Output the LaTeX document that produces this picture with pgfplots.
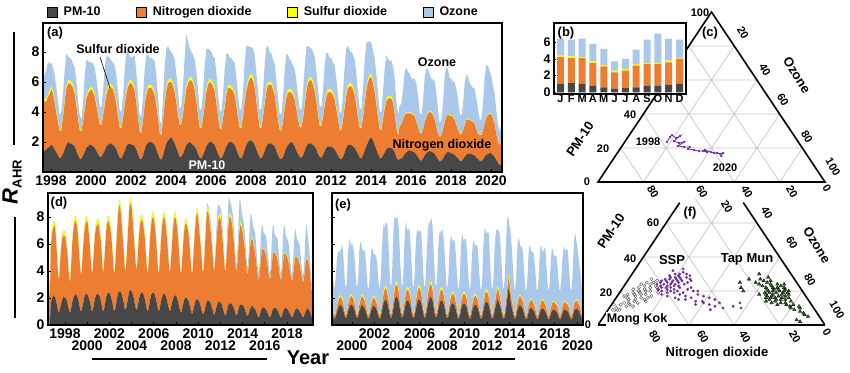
\documentclass[border=0pt]{standalone}
\usepackage{fontspec}
\setmainfont{Liberation Sans}
\usepackage{pgfplots}
\usepackage{pgfplotstable}
\pgfplotsset{compat=1.18}
\definecolor{pmc}{HTML}{474747}
\definecolor{noc}{HTML}{ED7D31}
\definecolor{soc}{HTML}{FFFF00}
\definecolor{ozc}{HTML}{A9C8EA}
\definecolor{ssp}{HTML}{7030A0}
\definecolor{tap}{HTML}{2F6B1F}
\newcommand{\fs}[1]{\fontsize{#1}{#1}\selectfont\bfseries}
\pgfplotsset{
 ts/.style={scale only axis, anchor=south west, stack plots=y, area style, enlargelimits=false,
  axis on top, axis line style={line width=1.2pt}, tick pos=left, tick align=inside,
  major tick length=3pt, tick style={black,line width=0.8pt}, ticklabel style={font=\fs{14}},
  /pgf/number format/assume math mode=true, /pgf/number format/1000 sep={}},
 tern/.style={scale only axis, anchor=south west, width=227pt, height=170pt,
  xmin=0,xmax=100,ymin=0,ymax=100, axis lines=none, clip=false}
}
% Panel (a): monthly contributions (PM-10, NO2, SO2, O3), from 1997.6
\pgfplotstableread{
pm no so oz
1.3 3.4 0.15 1.3
1.4 3.3 0.16 1.6
1.5 3.2 0.17 1.9
1.6 3.4 0.18 2.2
1.7 3.5 0.19 1.8
1.8 3.7 0.21 1.6
1.7 3.5 0.20 1.5
1.5 3.1 0.18 1.7
1.3 2.6 0.15 1.6
1.1 2.2 0.12 1.3
0.9 1.8 0.09 1.0
1.0 1.8 0.08 1.1
1.2 2.4 0.11 1.5
1.5 3.1 0.15 2.0
1.8 3.7 0.19 2.2
2.0 3.9 0.21 1.6
1.9 4.0 0.22 1.5
1.9 3.9 0.22 1.5
1.8 3.8 0.21 1.4
1.7 3.5 0.20 1.6
1.4 3.0 0.17 1.5
1.1 2.4 0.13 1.2
0.9 1.9 0.09 0.9
0.85 1.8 0.08 0.8
1.1 2.2 0.11 1.2
1.3 2.8 0.14 2.1
1.6 3.3 0.18 2.4
1.7 3.5 0.20 2.0
1.8 3.6 0.20 1.7
1.8 3.7 0.21 1.6
1.7 3.6 0.20 1.7
1.6 3.4 0.19 1.8
1.4 3.0 0.16 1.7
1.2 2.6 0.13 1.4
1.0 2.2 0.10 1.1
1.0 2.1 0.09 1.1
1.2 2.5 0.12 1.5
1.4 3.0 0.16 2.3
1.7 3.4 0.19 2.4
1.8 3.7 0.21 2.0
1.9 3.8 0.22 1.7
1.9 3.7 0.22 1.6
1.8 3.7 0.21 1.6
1.7 3.4 0.19 1.8
1.5 3.0 0.16 1.8
1.2 2.5 0.13 1.5
0.95 2.0 0.10 1.1
0.9 2.0 0.09 1.0
1.1 2.4 0.12 1.4
1.4 3.0 0.16 2.2
1.7 3.5 0.19 2.6
1.85 3.8 0.21 2.2
1.9 4.0 0.22 1.6
1.8 4.1 0.22 1.5
1.8 3.9 0.21 1.8
1.7 3.7 0.20 2.2
1.5 3.1 0.16 1.9
1.2 2.4 0.12 1.4
0.9 1.8 0.09 1.0
0.85 1.7 0.08 1.1
1.1 2.3 0.11 1.5
1.5 2.9 0.15 2.3
1.8 3.3 0.18 2.5
1.95 3.6 0.20 2.1
2.0 3.6 0.21 1.8
2.0 3.6 0.21 1.8
1.9 3.5 0.20 1.9
1.8 3.3 0.19 2.1
1.5 2.9 0.16 1.9
1.2 2.3 0.12 1.4
0.9 1.7 0.08 0.8
0.8 1.6 0.07 0.7
1.1 2.3 0.11 1.4
1.5 3.0 0.15 2.4
1.9 3.5 0.19 2.6
2.1 3.8 0.21 2.3
2.2 3.8 0.22 1.9
2.3 3.7 0.22 1.8
2.1 3.6 0.21 1.9
1.9 3.4 0.20 2.0
1.6 3.0 0.17 1.8
1.3 2.5 0.13 1.5
1.0 2.1 0.10 1.0
1.0 2.2 0.10 1.1
1.2 2.6 0.12 1.7
1.5 3.2 0.16 2.8
1.8 3.7 0.19 3.5
1.9 4.0 0.21 2.6
2.0 4.1 0.22 1.9
1.9 4.2 0.22 1.7
1.8 4.1 0.21 1.7
1.7 3.7 0.20 1.9
1.5 3.2 0.17 1.8
1.2 2.6 0.13 1.6
0.95 2.0 0.10 1.1
0.9 2.0 0.09 1.2
1.1 2.4 0.12 1.6
1.4 3.0 0.16 2.5
1.7 3.6 0.19 2.7
1.9 3.9 0.21 2.2
2.0 4.0 0.22 1.9
2.0 3.9 0.22 1.9
1.9 3.8 0.21 1.8
1.8 3.6 0.20 2.0
1.5 3.1 0.17 1.9
1.2 2.5 0.13 1.5
0.95 2.0 0.10 1.1
0.9 1.9 0.09 1.1
1.1 2.4 0.12 1.5
1.4 2.9 0.15 2.4
1.7 3.4 0.18 2.6
1.9 3.7 0.20 2.1
2.0 3.6 0.21 1.8
2.0 3.5 0.21 1.9
1.9 3.5 0.20 1.8
1.8 3.3 0.19 2.0
1.5 2.9 0.16 1.8
1.2 2.4 0.13 1.5
0.95 2.0 0.10 1.1
0.9 2.0 0.09 1.2
1.1 2.5 0.12 1.6
1.5 3.1 0.16 2.5
1.8 3.6 0.19 2.8
2.0 3.9 0.21 2.3
2.1 4.1 0.22 1.9
2.1 4.2 0.23 1.8
2.0 4.1 0.22 1.9
1.8 3.8 0.20 2.0
1.5 3.2 0.17 1.8
1.2 2.6 0.13 1.5
0.95 2.0 0.10 1.1
0.9 2.0 0.09 1.2
1.1 2.5 0.12 1.6
1.4 3.1 0.16 2.5
1.7 3.6 0.19 2.8
1.9 3.9 0.21 2.4
1.9 3.9 0.21 2.0
1.9 3.9 0.21 1.9
1.8 3.7 0.20 1.8
1.7 3.4 0.19 1.9
1.4 2.9 0.16 1.7
1.1 2.3 0.12 1.4
0.9 1.9 0.09 1.0
0.85 1.9 0.08 1.0
1.0 2.3 0.11 1.5
1.3 2.9 0.15 2.4
1.6 3.3 0.18 2.8
1.8 3.5 0.20 2.3
1.9 3.4 0.20 2.0
2.0 3.3 0.20 1.9
1.9 3.2 0.19 1.8
1.7 3.1 0.18 1.9
1.4 2.8 0.15 1.8
1.2 2.3 0.12 1.5
1.0 2.0 0.10 1.1
0.95 2.0 0.09 1.1
1.1 2.4 0.12 1.6
1.4 3.0 0.16 2.5
1.7 3.6 0.19 2.8
1.9 4.0 0.21 2.3
1.9 4.2 0.22 2.0
1.9 4.2 0.22 1.9
1.8 4.0 0.21 2.0
1.7 3.7 0.20 2.1
1.5 3.2 0.17 1.9
1.2 2.6 0.13 1.6
1.0 2.1 0.10 1.2
0.95 2.1 0.09 1.2
1.1 2.5 0.12 1.7
1.4 3.0 0.16 2.6
1.6 3.4 0.18 2.8
1.7 3.6 0.20 2.4
1.7 3.6 0.20 2.1
1.7 3.6 0.20 2.1
1.6 3.5 0.19 2.0
1.5 3.3 0.18 2.1
1.3 2.9 0.15 1.9
1.1 2.4 0.12 1.5
0.9 1.9 0.09 1.1
0.85 1.9 0.08 1.1
1.0 2.4 0.11 1.7
1.3 3.0 0.15 2.6
1.6 3.5 0.18 3.0
1.8 3.8 0.20 2.6
1.8 3.9 0.21 2.2
1.8 3.9 0.21 2.1
1.7 3.8 0.20 2.1
1.6 3.5 0.19 2.2
1.4 3.0 0.16 2.0
1.2 2.4 0.12 1.6
0.95 2.0 0.09 1.2
0.9 2.0 0.08 1.2
1.1 2.5 0.11 1.8
1.4 3.1 0.15 2.8
1.7 3.7 0.18 3.0
2.0 4.0 0.20 2.5
2.2 4.1 0.21 2.2
2.3 4.0 0.21 2.1
2.1 3.8 0.20 2.0
1.8 3.5 0.18 2.1
1.5 3.0 0.15 1.9
1.2 2.4 0.12 1.6
0.95 1.9 0.09 1.1
0.9 1.9 0.08 1.1
1.1 2.4 0.11 1.7
1.3 2.9 0.14 2.6
1.5 3.2 0.16 2.9
1.6 3.3 0.17 2.5
1.6 3.3 0.17 2.3
1.6 3.3 0.16 2.4
1.5 3.1 0.15 2.3
1.3 2.6 0.13 2.2
1.0 1.9 0.10 1.7
0.8 1.6 0.07 1.4
0.85 2.2 0.06 1.3
0.9 2.3 0.06 1.3
1.0 2.5 0.06 1.9
1.2 2.6 0.06 2.8
1.3 2.6 0.06 3.0
1.4 2.5 0.06 2.7
1.4 2.5 0.06 2.6
1.4 2.5 0.06 2.3
1.35 2.45 0.06 2.3
1.3 2.4 0.06 2.5
1.15 2.2 0.05 2.5
1.0 2.0 0.05 2.1
0.8 1.8 0.04 1.3
0.75 1.8 0.04 1.2
0.9 1.9 0.04 1.8
1.1 2.2 0.05 3.0
1.25 2.4 0.05 3.2
1.35 2.55 0.06 2.9
1.4 2.6 0.06 2.5
1.35 2.6 0.06 2.2
1.3 2.5 0.06 2.3
1.2 2.3 0.05 2.5
1.0 2.0 0.05 2.2
0.85 1.7 0.04 1.6
0.7 1.6 0.04 0.9
0.75 1.7 0.04 1.0
0.9 1.9 0.04 1.8
1.1 2.2 0.05 3.0
1.25 2.45 0.05 3.3
1.35 2.5 0.06 2.9
1.3 2.4 0.06 2.5
1.25 2.5 0.06 2.4
1.2 2.45 0.06 2.3
1.15 2.3 0.05 2.5
1.0 2.1 0.05 2.4
0.9 1.9 0.05 2.0
0.75 1.8 0.04 1.3
0.7 1.8 0.04 1.2
0.85 1.9 0.04 1.7
1.0 2.1 0.05 2.8
1.15 2.3 0.05 3.0
1.2 2.3 0.05 2.8
1.2 2.25 0.05 2.5
1.2 2.2 0.05 2.3
1.15 2.2 0.05 2.2
1.1 2.1 0.05 2.3
0.95 1.9 0.05 2.0
0.85 1.7 0.04 1.6
0.75 1.7 0.04 1.0
0.7 1.75 0.04 1.0
0.85 1.9 0.04 1.8
1.0 2.2 0.05 3.1
1.15 2.45 0.05 3.5
1.2 2.6 0.05 3.2
1.25 2.6 0.05 2.8
1.25 2.6 0.05 2.5
1.1 2.4 0.05 2.2
1.0 2.2 0.05 2.0
0.8 1.7 0.04 1.5
0.6 1.4 0.04 1.1
0.45 1.3 0.03 0.9
0.5 1.6 0.03 1.2
}\dA
% Panel (d): roadside station, from 1996.47
\pgfplotstableread{
pm no so oz
0 4.0 0.30 0.05
0 3.8 0.25 0.05
0 1.5 0.10 0
1.6 4.2 0.25 0.05
1.9 4.6 0.30 0.05
2.1 5.0 0.32 0.05
2.2 5.0 0.33 0.05
2.1 5.3 0.35 0.05
2.0 5.0 0.32 0.05
1.7 4.2 0.25 0.05
1.4 3.4 0.18 0.05
1.0 2.6 0.10 0.03
0.9 2.5 0.10 0.03
1.2 3.3 0.15 0.05
1.5 4.0 0.20 0.1
1.8 4.4 0.27 0.1
2.0 4.7 0.30 0.1
2.1 4.4 0.30 0.05
2.0 4.6 0.32 0.05
2.0 4.5 0.30 0.05
1.9 3.9 0.28 0.05
1.6 3.8 0.24 0.05
1.3 3.0 0.16 0.05
1.0 2.4 0.10 0.03
0.9 2.3 0.10 0.03
1.2 3.1 0.15 0.05
1.6 4.2 0.22 0.1
1.9 4.8 0.30 0.1
2.1 5.3 0.33 0.1
2.2 5.4 0.35 0.05
2.3 5.4 0.36 0.05
2.2 5.2 0.34 0.05
2.0 5.0 0.30 0.05
1.8 4.2 0.25 0.05
1.4 3.5 0.18 0.05
1.1 2.9 0.12 0.03
1.0 2.7 0.10 0.03
1.3 3.4 0.15 0.05
1.6 4.1 0.22 0.1
2.0 4.7 0.29 0.1
2.2 5.1 0.32 0.1
2.3 5.3 0.35 0.05
2.3 5.4 0.36 0.05
2.2 5.3 0.34 0.05
2.0 4.8 0.30 0.05
1.8 4.3 0.25 0.05
1.5 3.6 0.19 0.05
1.1 3.0 0.12 0.03
1.0 2.8 0.10 0.03
1.3 3.5 0.16 0.05
1.7 4.2 0.23 0.1
2.0 4.8 0.30 0.1
2.2 5.0 0.32 0.1
2.3 5.2 0.34 0.05
2.3 5.0 0.35 0.05
2.2 5.3 0.35 0.05
2.1 4.6 0.30 0.05
1.8 4.5 0.26 0.05
1.5 3.8 0.20 0.05
1.1 3.0 0.12 0.03
1.0 2.9 0.10 0.03
1.3 3.6 0.16 0.05
1.7 4.3 0.23 0.1
2.1 4.9 0.30 0.1
2.3 5.2 0.33 0.1
2.4 5.3 0.35 0.05
2.4 5.2 0.36 0.05
2.3 5.0 0.34 0.05
2.1 4.7 0.30 0.05
1.8 4.3 0.25 0.05
1.5 3.6 0.19 0.05
1.1 2.9 0.12 0.03
1.0 2.8 0.10 0.03
1.3 3.5 0.16 0.05
1.7 4.4 0.23 0.1
2.1 5.2 0.30 0.1
2.4 6.0 0.35 0.1
2.5 6.3 0.38 0.05
2.5 6.4 0.38 0.05
2.4 5.6 0.35 0.05
2.2 5.0 0.30 0.05
1.9 4.4 0.25 0.05
1.6 3.7 0.19 0.05
1.2 3.0 0.12 0.03
1.1 2.9 0.10 0.03
1.4 3.6 0.16 0.05
1.8 4.5 0.23 0.1
2.2 5.4 0.30 0.1
2.5 6.2 0.36 0.1
2.6 6.4 0.38 0.05
2.5 6.5 0.38 0.05
2.4 5.8 0.35 0.05
2.2 5.1 0.30 0.05
1.9 4.5 0.26 0.05
1.5 3.8 0.19 0.05
1.2 3.1 0.12 0.03
1.1 3.0 0.10 0.03
1.4 3.7 0.16 0.05
1.8 4.5 0.23 0.1
2.1 5.0 0.30 0.1
2.3 5.3 0.33 0.1
2.4 5.4 0.35 0.05
2.4 5.3 0.35 0.05
2.3 5.1 0.33 0.05
2.1 4.8 0.30 0.05
1.8 4.3 0.25 0.05
1.5 3.6 0.19 0.05
1.1 2.9 0.12 0.03
1.0 2.8 0.10 0.03
1.3 3.5 0.16 0.05
1.7 4.3 0.23 0.1
2.1 5.0 0.30 0.1
2.3 5.4 0.33 0.1
2.4 5.5 0.35 0.05
2.4 5.6 0.36 0.05
2.3 5.3 0.34 0.05
2.1 4.9 0.30 0.05
1.8 4.3 0.25 0.05
1.5 3.6 0.19 0.05
1.1 2.9 0.12 0.03
1.0 2.8 0.10 0.03
1.3 3.6 0.16 0.05
1.7 4.4 0.23 0.1
2.0 5.1 0.30 0.1
2.2 5.5 0.33 0.1
2.3 5.7 0.35 0.05
2.3 5.6 0.36 0.05
2.2 5.3 0.34 0.05
2.0 4.9 0.30 0.05
1.7 4.4 0.25 0.05
1.4 3.7 0.19 0.05
1.1 3.0 0.12 0.03
1.0 2.9 0.10 0.03
1.3 3.6 0.16 0.05
1.6 4.4 0.23 0.1
1.9 5.1 0.30 0.1
2.1 5.6 0.33 0.1
2.2 5.8 0.35 0.05
2.2 5.7 0.35 0.05
2.1 5.4 0.33 0.05
1.9 5.0 0.30 0.05
1.6 4.4 0.25 0.05
1.3 3.7 0.19 0.05
1.0 3.0 0.12 0.03
0.9 2.9 0.10 0.03
1.2 3.6 0.16 0.05
1.5 4.4 0.23 0.1
1.8 5.0 0.29 0.1
2.0 5.4 0.32 0.1
2.0 5.5 0.33 0.05
2.0 5.4 0.32 0.05
1.9 5.2 0.30 0.05
1.8 4.9 0.28 0.05
1.5 4.4 0.24 0.05
1.2 3.8 0.18 0.05
0.9 3.1 0.12 0.03
0.8 3.0 0.10 0.03
1.1 3.7 0.15 0.05
1.4 4.6 0.22 0.1
1.7 5.4 0.28 0.1
1.9 6.0 0.32 0.1
1.9 6.4 0.34 0.1
1.9 6.2 0.33 0.1
1.8 5.6 0.30 0.1
1.6 5.0 0.27 0.1
1.4 4.5 0.23 0.1
1.1 3.9 0.17 0.05
0.85 3.2 0.11 0.05
0.8 3.1 0.10 0.05
1.0 3.9 0.15 0.1
1.3 5.0 0.22 0.2
1.6 6.0 0.28 0.3
1.8 6.6 0.33 0.3
1.8 6.6 0.34 0.2
1.8 6.2 0.32 0.3
1.7 5.6 0.30 0.4
1.6 5.2 0.27 0.6
1.3 4.7 0.22 0.5
1.1 4.0 0.17 0.4
0.8 3.4 0.11 0.2
0.75 3.3 0.10 0.2
1.0 4.0 0.14 0.4
1.3 4.8 0.20 0.9
1.5 5.5 0.25 1.2
1.7 6.0 0.28 1.0
1.7 6.2 0.30 0.6
1.7 6.3 0.30 0.5
1.6 6.0 0.28 0.6
1.5 5.4 0.25 0.8
1.2 4.8 0.20 0.7
1.0 4.1 0.16 0.5
0.75 3.4 0.10 0.3
0.7 3.3 0.10 0.3
0.9 4.0 0.13 0.6
1.2 5.0 0.19 1.2
1.5 5.8 0.24 1.6
1.6 6.3 0.27 1.3
1.6 6.4 0.28 0.8
1.6 6.2 0.28 0.8
1.5 5.9 0.26 0.9
1.4 5.4 0.24 1.0
1.2 4.8 0.20 0.9
1.0 4.1 0.15 0.6
0.75 3.4 0.10 0.4
0.7 3.3 0.10 0.4
0.9 3.9 0.13 0.8
1.2 4.8 0.18 1.5
1.4 5.6 0.22 2.0
1.5 5.9 0.24 1.6
1.5 5.8 0.24 1.0
1.5 5.5 0.22 0.9
1.4 5.2 0.20 1.0
1.3 4.8 0.18 1.1
1.1 4.3 0.15 1.0
0.9 3.8 0.12 0.7
0.7 3.2 0.08 0.5
0.65 3.1 0.07 0.5
0.85 3.6 0.10 0.9
1.1 4.3 0.13 1.6
1.3 4.8 0.15 2.0
1.4 5.0 0.16 1.6
1.4 4.9 0.15 1.2
1.3 4.6 0.12 1.2
1.25 4.4 0.10 1.3
1.15 4.1 0.08 1.4
0.95 3.7 0.06 1.2
0.8 3.3 0.05 0.8
0.6 2.9 0.04 0.5
0.55 2.8 0.04 0.5
0.75 3.2 0.05 0.9
1.0 3.8 0.06 1.6
1.2 4.2 0.07 1.9
1.3 4.4 0.07 1.6
1.3 4.3 0.07 1.2
1.3 4.2 0.07 1.2
1.2 4.1 0.07 1.3
1.1 3.9 0.06 1.4
0.95 3.6 0.05 1.2
0.8 3.2 0.05 0.9
0.6 2.9 0.04 0.5
0.55 2.8 0.04 0.5
0.7 3.1 0.05 0.9
0.95 3.6 0.06 1.8
1.15 4.0 0.06 2.2
1.25 4.2 0.07 1.8
1.25 4.1 0.07 1.3
1.25 4.0 0.07 1.3
1.2 3.9 0.06 1.3
1.1 3.8 0.06 1.5
0.95 3.5 0.05 1.2
0.8 3.1 0.05 0.9
0.6 2.8 0.04 0.5
0.55 2.8 0.04 0.5
0.7 3.1 0.05 1.0
0.95 3.6 0.06 1.9
1.15 4.0 0.06 2.3
1.25 4.1 0.07 1.8
1.25 4.0 0.07 1.3
1.2 3.9 0.07 1.3
1.15 3.8 0.06 1.3
1.05 3.6 0.06 1.4
0.9 3.3 0.05 1.1
0.75 3.0 0.05 0.8
0.6 2.8 0.04 0.5
0.55 2.7 0.04 0.5
0.7 3.0 0.05 1.0
0.9 3.4 0.06 1.8
1.1 3.8 0.06 2.2
1.2 3.9 0.06 1.8
1.2 3.8 0.06 1.3
1.2 3.7 0.06 1.3
1.1 3.6 0.06 1.3
1.0 3.5 0.05 1.4
0.9 3.2 0.05 1.1
0.75 2.9 0.04 0.8
0.6 2.7 0.04 0.5
0.55 2.6 0.04 0.5
0.7 2.9 0.04 1.0
0.9 3.3 0.05 2.0
1.1 3.7 0.05 2.6
1.2 3.7 0.06 2.3
1.2 3.6 0.06 1.5
1.1 3.4 0.06 1.3
1.0 3.0 0.05 1.0
0.8 2.4 0.05 0.6
0.6 2.0 0.04 0.4
0.5 1.8 0.04 0.3
}\dD
% Panel (e): rural station, from 1998.23
\pgfplotstableread{
pm no so oz
0.9 0.4 0.08 3.0
0.7 0.3 0.06 2.5
0.5 0.25 0.05 2.0
0.45 0.25 0.05 2.1
0.6 0.3 0.06 2.6
0.9 0.4 0.09 3.3
1.1 0.5 0.11 3.6
1.3 0.55 0.13 3.5
1.4 0.6 0.14 3.2
1.5 0.6 0.15 3.3
1.4 0.55 0.14 3.6
1.3 0.5 0.13 4.0
1.1 0.45 0.11 3.5
0.8 0.35 0.08 2.8
0.55 0.25 0.06 2.1
0.5 0.25 0.05 2.0
0.65 0.3 0.07 2.5
1.0 0.45 0.10 3.8
1.2 0.5 0.12 4.2
1.4 0.6 0.14 4.3
1.5 0.6 0.15 3.6
1.5 0.65 0.15 3.7
1.4 0.6 0.14 3.8
1.3 0.55 0.13 3.6
1.1 0.5 0.11 3.3
0.8 0.35 0.08 2.7
0.55 0.25 0.06 2.1
0.5 0.25 0.05 2.0
0.65 0.3 0.07 2.6
1.0 0.45 0.10 3.9
1.2 0.5 0.12 4.3
1.4 0.6 0.14 4.0
1.5 0.65 0.15 3.4
1.4 0.6 0.14 3.3
1.3 0.6 0.14 3.5
1.2 0.55 0.13 3.6
1.0 0.45 0.10 3.2
0.75 0.35 0.08 2.6
0.5 0.25 0.05 2.0
0.45 0.25 0.05 1.9
0.6 0.3 0.07 2.4
0.9 0.4 0.10 3.5
1.1 0.5 0.12 3.9
1.3 0.55 0.13 3.7
1.4 0.6 0.14 3.2
1.4 0.6 0.14 3.1
1.3 0.55 0.13 3.2
1.2 0.5 0.12 3.4
1.0 0.45 0.10 3.0
0.75 0.35 0.08 2.5
0.5 0.25 0.05 2.0
0.45 0.25 0.05 2.0
0.6 0.3 0.07 2.6
1.0 0.45 0.10 4.0
1.3 0.55 0.13 4.8
1.6 0.7 0.16 5.0
1.8 0.8 0.18 4.4
1.9 0.85 0.19 4.6
1.8 0.8 0.18 4.8
1.6 0.7 0.16 5.0
1.3 0.6 0.13 4.2
0.9 0.4 0.09 3.0
0.6 0.3 0.06 2.2
0.5 0.25 0.05 2.1
0.7 0.35 0.07 2.8
1.1 0.5 0.11 4.5
1.5 0.65 0.15 5.4
1.9 0.8 0.19 5.2
2.1 0.9 0.21 4.6
2.1 0.9 0.21 4.8
1.9 0.85 0.19 5.0
1.7 0.75 0.17 4.6
1.3 0.6 0.13 3.8
0.9 0.4 0.09 2.9
0.6 0.3 0.06 2.1
0.55 0.25 0.05 2.0
0.7 0.35 0.07 2.7
1.1 0.5 0.11 4.2
1.4 0.6 0.14 5.0
1.7 0.75 0.17 5.0
1.8 0.8 0.18 4.3
1.8 0.8 0.18 4.2
1.7 0.75 0.17 4.6
1.5 0.65 0.15 4.5
1.2 0.55 0.12 3.7
0.85 0.4 0.08 2.8
0.55 0.25 0.05 2.1
0.5 0.25 0.05 2.0
0.65 0.3 0.07 2.7
1.1 0.5 0.11 4.0
1.4 0.6 0.14 4.6
1.7 0.75 0.17 4.5
1.9 0.8 0.19 4.0
1.9 0.85 0.19 4.0
1.8 0.8 0.18 4.2
1.6 0.7 0.16 4.4
1.3 0.55 0.13 3.6
0.9 0.4 0.09 2.7
0.6 0.3 0.06 2.0
0.5 0.25 0.05 2.0
0.7 0.35 0.07 2.6
1.1 0.5 0.11 3.9
1.5 0.65 0.15 4.6
1.8 0.8 0.18 4.8
2.0 0.9 0.20 4.4
2.1 0.95 0.21 4.5
2.0 0.9 0.20 4.8
1.8 0.8 0.18 4.6
1.4 0.6 0.14 3.8
0.95 0.45 0.09 2.8
0.6 0.3 0.06 2.1
0.55 0.25 0.05 2.0
0.7 0.35 0.07 2.6
1.1 0.5 0.11 3.9
1.4 0.6 0.14 4.5
1.7 0.75 0.17 4.4
1.8 0.8 0.18 4.0
1.8 0.8 0.18 4.2
1.7 0.75 0.17 4.4
1.5 0.65 0.15 4.0
1.2 0.55 0.12 3.4
0.85 0.4 0.08 2.6
0.55 0.25 0.05 2.0
0.5 0.25 0.05 2.0
0.65 0.3 0.07 2.6
1.0 0.45 0.10 3.8
1.3 0.55 0.13 4.3
1.5 0.65 0.15 4.3
1.6 0.7 0.16 3.8
1.6 0.7 0.16 3.8
1.5 0.65 0.15 4.0
1.4 0.6 0.14 3.9
1.1 0.5 0.11 3.3
0.8 0.35 0.08 2.6
0.5 0.25 0.05 2.0
0.45 0.25 0.05 1.9
0.6 0.3 0.06 2.5
1.0 0.45 0.10 3.9
1.3 0.55 0.13 4.5
1.5 0.65 0.15 4.4
1.6 0.7 0.16 3.8
1.6 0.7 0.16 3.9
1.5 0.65 0.15 4.1
1.4 0.6 0.14 4.0
1.1 0.5 0.11 3.3
0.8 0.35 0.08 2.6
0.5 0.25 0.05 2.0
0.45 0.25 0.05 1.9
0.6 0.3 0.06 2.5
0.95 0.45 0.10 3.7
1.2 0.55 0.12 4.2
1.4 0.6 0.14 4.1
1.5 0.65 0.15 3.6
1.5 0.65 0.15 3.6
1.4 0.6 0.14 3.8
1.3 0.55 0.13 3.8
1.05 0.45 0.10 3.2
0.75 0.35 0.07 2.5
0.5 0.25 0.05 1.9
0.45 0.25 0.05 1.9
0.6 0.3 0.06 2.6
1.0 0.45 0.10 4.0
1.3 0.55 0.13 4.8
1.6 0.7 0.16 4.8
1.7 0.75 0.17 4.2
1.7 0.75 0.17 4.2
1.6 0.7 0.16 4.5
1.4 0.6 0.14 4.6
1.1 0.5 0.11 3.6
0.8 0.35 0.08 2.6
0.5 0.25 0.05 2.0
0.45 0.25 0.05 1.9
0.6 0.3 0.06 2.6
1.0 0.45 0.10 4.0
1.3 0.55 0.13 4.6
1.6 0.7 0.16 4.6
1.9 0.8 0.19 4.2
1.8 0.75 0.18 4.3
1.6 0.7 0.16 4.5
1.4 0.6 0.14 4.2
1.1 0.5 0.11 3.5
0.8 0.35 0.08 2.6
0.5 0.25 0.05 2.0
0.45 0.25 0.05 1.9
0.6 0.3 0.06 2.6
1.1 0.5 0.11 4.0
1.6 0.65 0.15 4.8
2.2 0.8 0.20 4.9
2.7 0.8 0.22 4.2
2.4 0.75 0.20 4.0
1.8 0.7 0.17 4.2
1.4 0.6 0.14 4.0
1.1 0.5 0.11 3.4
0.8 0.35 0.08 2.6
0.5 0.25 0.05 1.9
0.45 0.25 0.05 1.9
0.6 0.3 0.06 2.5
1.0 0.45 0.10 3.8
1.2 0.55 0.12 4.4
1.4 0.6 0.13 4.3
1.5 0.65 0.14 3.8
1.4 0.65 0.12 3.6
1.3 0.6 0.11 3.8
1.2 0.55 0.10 3.7
0.95 0.45 0.08 3.1
0.7 0.35 0.06 2.5
0.45 0.25 0.04 1.9
0.4 0.25 0.04 1.9
0.55 0.3 0.05 2.5
0.85 0.4 0.07 3.6
1.1 0.5 0.08 4.2
1.2 0.55 0.09 4.0
1.3 0.6 0.10 3.5
1.2 0.6 0.09 3.5
1.1 0.55 0.09 3.7
1.0 0.5 0.08 3.6
0.85 0.45 0.07 3.0
0.65 0.35 0.05 2.4
0.45 0.25 0.04 1.9
0.4 0.25 0.04 1.9
0.55 0.3 0.05 2.5
0.85 0.4 0.07 3.7
1.05 0.5 0.08 4.2
1.2 0.55 0.09 4.0
1.2 0.6 0.09 3.5
1.2 0.6 0.09 3.6
1.1 0.55 0.09 3.9
1.0 0.5 0.08 4.2
0.85 0.45 0.07 3.4
0.65 0.35 0.05 2.6
0.45 0.25 0.04 2.0
0.4 0.25 0.04 1.9
0.55 0.3 0.05 2.5
0.85 0.4 0.07 3.6
1.0 0.5 0.08 4.0
1.1 0.55 0.09 3.9
1.15 0.55 0.09 3.4
1.1 0.55 0.09 3.3
1.05 0.5 0.08 3.5
1.0 0.5 0.08 3.5
0.85 0.45 0.07 3.0
0.65 0.35 0.05 2.4
0.45 0.25 0.04 1.9
0.4 0.25 0.04 1.9
0.55 0.3 0.05 2.4
0.8 0.4 0.06 3.4
1.0 0.5 0.08 3.9
1.1 0.55 0.09 4.1
1.15 0.55 0.09 3.7
1.1 0.55 0.09 3.8
1.05 0.5 0.08 4.0
1.0 0.5 0.08 3.9
0.85 0.45 0.07 3.2
0.65 0.35 0.05 2.5
0.45 0.25 0.04 1.9
0.4 0.25 0.04 1.9
0.55 0.3 0.05 2.6
0.85 0.4 0.07 4.0
1.05 0.5 0.08 4.8
1.15 0.55 0.09 5.0
1.2 0.6 0.09 4.4
1.2 0.6 0.09 4.0
1.1 0.55 0.08 3.5
1.0 0.5 0.08 3.0
0.85 0.45 0.07 2.8
0.65 0.35 0.05 2.4
0.45 0.25 0.04 2.0
0.4 0.25 0.04 1.9
}\dE
% Panel (c): yearly shares (%) 1998-2020: PM-10 (p), ozone (o)
\pgfplotstableread{
p o
23.5 18.6
26.5 18.5
27.6 18.8
25.9 21.4
27.1 22.6
24.1 21.4
22.9 24.2
23.5 26.2
21.2 24.6
20.6 27.6
20.6 30.2
19.4 29.9
18.8 32.9
18.2 35.4
18.2 37.2
17.6 39.2
18.8 37.7
17.6 41.0
17.1 42.6
17.1 43.9
16.5 45.5
17.1 46.6
15.3 46.6
}\dC
% Panel (f): Mong Kok
\pgfplotstableread{
p o
17 8
19 9
15 6
21 10
13 5
18 12
22 7
16 11
20 13
14 9
24 11
12 4
19 6
23 14
17 15
11 7
25 9
15 13
21 16
18 4
10 3
26 13
13 11
20 8
16 5
22 12
9 5
14 14
24 7
18 10
12 8
27 10
19 17
15 9
21 5
17 3
23 9
11 10
16 14
20 11
13 7
25 12
8 4
18 7
22 15
12 1
9 2
}\dMK
% Panel (f): SSP
\pgfplotstableread{
p o
25 20
27 18
23 22
29 21
26 24
24 17
28 25
22 19
30 19
21 23
26 15
25 27
28 20
24 22
27 23
20 18
31 22
23 16
26 20
29 17
22 25
24 26
27 16
21 20
25 23
30 24
23 19
26 28
28 22
20 22
24 14
27 21
22 17
29 26
25 18
19 21
26 22
23 24
28 18
21 16
24 20
27 27
20 25
25 15
22 21
30 21
18 19
26 17
19 28
17 30
21 29
16 33
18 35
15 31
20 32
14 36
17 38
13 40
16 41
12 43
15 44
11 46
14 39
13 47
10 50
12 37
18 27
16 26
19 24
17 22
22 30
20 34
15 28
9 45
33 21
32 17
11 54
13 56
10 58
}\dSS
% Panel (f): Tap Mun
\pgfplotstableread{
p o
20 65
18 68
22 63
16 70
19 72
21 67
17 66
23 69
15 73
18 75
20 70
24 64
14 71
19 64
22 68
16 76
13 74
21 72
17 71
25 62
18 62
20 74
15 68
23 65
12 77
19 69
16 66
22 71
14 78
21 64
17 74
24 67
13 70
20 67
18 72
15 75
26 63
19 66
11 79
23 61
16 73
21 69
14 67
18 65
20 72
12 73
17 68
22 66
15 71
19 74
13 76
10 80
24 70
16 68
27 58
25 57
28 61
26 60
10 84
8 85
9 82
6 88
5 90
11 83
30 56
24 59
7 87
12 80
22 52
25 50
20 54
27 53
2 88
3 86
}\dTM
\begin{document}
\begin{tikzpicture}[x=1pt,y=1pt]
\path[use as bounding box] (0pt,0pt) rectangle (850pt,372pt);
% ---------- (a)
\begin{axis}[ts, at={(43pt,200pt)}, width=459pt, height=149pt,
  xmin=1997.6, xmax=2020.55, ymin=0, ymax=9.93,
  xtick={1998,2000,...,2020}, ytick={2,4,6,8},
  legend columns=4, legend cell align=left,
  legend style={draw=none, fill=none, inner sep=0pt, at={(axis description cs:0.009,1.074)}, anchor=west,
    font=\fs{12.5}, /tikz/every even column/.append style={column sep=34pt}}]
\addplot[draw=none, fill=pmc, legend image code/.code={\draw[fill=pmc,draw=black,line width=0.7pt] (0pt,-5pt) rectangle (10pt,5pt); \path (14pt,0pt);}]
  table[x expr=1997.6+\coordindex/12, y=pm] {\dA} \closedcycle;
\addlegendentry{PM-10}
\addplot[draw=none, fill=noc, legend image code/.code={\draw[fill=noc,draw=black,line width=0.7pt] (0pt,-5pt) rectangle (10pt,5pt); \path (14pt,0pt);}]
  table[x expr=1997.6+\coordindex/12, y=no] {\dA} \closedcycle;
\addlegendentry{Nitrogen dioxide}
\addplot[draw=none, fill=soc, legend image code/.code={\draw[fill=soc,draw=black,line width=0.7pt] (0pt,-5pt) rectangle (10pt,5pt); \path (14pt,0pt);}]
  table[x expr=1997.6+\coordindex/12, y=so] {\dA} \closedcycle;
\addlegendentry{Sulfur dioxide}
\addplot[draw=none, fill=ozc, legend image code/.code={\draw[fill=ozc,draw=black,line width=0.7pt] (0pt,-5pt) rectangle (10pt,5pt); \path (14pt,0pt);}]
  table[x expr=1997.6+\coordindex/12, y=oz] {\dA} \closedcycle;
\addlegendentry{Ozone}
\end{axis}
% ---------- (d)
\begin{axis}[ts, at={(48pt,47pt)}, width=265pt, height=132pt,
  xmin=1996.47, xmax=2020.34, ymin=0, ymax=9.78,
  xtick={1998,2002,...,2018}, extra x ticks={2000,2004,...,2016},
  extra x tick style={xticklabel style={yshift=-12pt}}, ytick={0,2,4,6,8}]
\addplot[draw=none, fill=pmc] table[x expr=1996.47+\coordindex/12, y=pm] {\dD} \closedcycle;
\addplot[draw=none, fill=noc] table[x expr=1996.47+\coordindex/12, y=no] {\dD} \closedcycle;
\addplot[draw=none, fill=soc] table[x expr=1996.47+\coordindex/12, y=so] {\dD} \closedcycle;
\addplot[draw=none, fill=ozc] table[x expr=1996.47+\coordindex/12, y=oz] {\dD} \closedcycle;
\end{axis}
% ---------- (e)
\begin{axis}[ts, at={(332pt,47pt)}, width=251pt, height=132pt,
  xmin=1998.23, xmax=2020.5, ymin=0, ymax=9.78,
  xtick={2002,2006,...,2018}, extra x ticks={2000,2004,...,2020},
  extra x tick style={xticklabel style={yshift=-12pt}}, ytick={2,4,6,8}, yticklabels={}]
\addplot[draw=none, fill=pmc] table[x expr=1998.23+\coordindex/12, y=pm] {\dE} \closedcycle;
\addplot[draw=none, fill=noc] table[x expr=1998.23+\coordindex/12, y=no] {\dE} \closedcycle;
\addplot[draw=none, fill=soc] table[x expr=1998.23+\coordindex/12, y=so] {\dE} \closedcycle;
\addplot[draw=none, fill=ozc] table[x expr=1998.23+\coordindex/12, y=oz] {\dE} \closedcycle;
\end{axis}
% ---------- (c) ternary
\begin{axis}[tern, at={(598pt,190pt)}]
\draw[black!22, line width=0.7pt] (axis cs:10,20)--(axis cs:90,20) (axis cs:20,40)--(axis cs:80,40)
  (axis cs:30,60)--(axis cs:70,60) (axis cs:40,80)--(axis cs:60,80)
  (axis cs:20,0)--(axis cs:60,80) (axis cs:40,0)--(axis cs:70,60) (axis cs:60,0)--(axis cs:80,40) (axis cs:80,0)--(axis cs:90,20)
  (axis cs:80,0)--(axis cs:40,80) (axis cs:60,0)--(axis cs:30,60) (axis cs:40,0)--(axis cs:20,40) (axis cs:20,0)--(axis cs:10,20);
\draw[black, line width=1.6pt] (axis cs:0,0)--(axis cs:100,0)--(axis cs:50,100)--cycle;
\addplot[ssp, line width=0.8pt, mark=*, mark size=0.7pt] table[x expr=\thisrow{o}+0.5*\thisrow{p}, y=p] {\dC};
\end{axis}
% ---------- (b) monthly bars
\begin{axis}[scale only axis, anchor=south west, at={(554pt,278pt)}, width=132pt, height=71pt,
  ybar stacked, bar width=7pt, xmin=0.4, xmax=12.6, ymin=-0.2, ymax=8.3,
  xtick={1,...,12}, xticklabels={J,F,M,A,M,J,J,A,S,O,N,D}, ytick={0,2,4,6},
  axis background/.style={fill=white}, axis on top, axis line style={line width=1.2pt},
  tick pos=left, tick align=inside, major tick length=2pt, tick style={black,line width=0.8pt},
  xtick style={draw=none}, xticklabel style={inner sep=1pt, font=\fs{11}},
  yticklabel style={font=\fs{12.5}}, /pgf/number format/assume math mode=true]
\addplot[fill=pmc, draw=none] coordinates {(1,1.0)(2,1.1)(3,1.0)(4,0.8)(5,0.6)(6,0.4)(7,0.5)(8,0.6)(9,0.8)(10,0.8)(11,0.9)(12,1.0)};
\addplot[fill=noc, draw=none] coordinates {(1,3.2)(2,3.0)(3,3.1)(4,2.7)(5,2.5)(6,2.0)(7,2.1)(8,2.6)(9,2.6)(10,2.6)(11,2.7)(12,3.0)};
\addplot[fill=soc, draw=none] coordinates {(1,0.2)(2,0.2)(3,0.12)(4,0.2)(5,0.2)(6,0.2)(7,0.2)(8,0.2)(9,0.1)(10,0.12)(11,0.2)(12,0.1)};
\addplot[fill=ozc, draw=none] coordinates {(1,2.0)(2,2.0)(3,2.2)(4,2.1)(5,1.9)(6,1.1)(7,1.2)(8,1.7)(9,2.8)(10,3.5)(11,2.6)(12,2.2)};
\end{axis}
% ---------- (f) ternary
\begin{axis}[tern, at={(598pt,47pt)}]
\begin{scope}
\clip (axis cs:0,0) rectangle (axis cs:100,74);
\draw[black!22, line width=0.7pt] (axis cs:10,20)--(axis cs:90,20) (axis cs:20,40)--(axis cs:80,40)
  (axis cs:30,60)--(axis cs:70,60) (axis cs:40,80)--(axis cs:60,80)
  (axis cs:20,0)--(axis cs:60,80) (axis cs:40,0)--(axis cs:70,60) (axis cs:60,0)--(axis cs:80,40) (axis cs:80,0)--(axis cs:90,20)
  (axis cs:80,0)--(axis cs:40,80) (axis cs:60,0)--(axis cs:30,60) (axis cs:40,0)--(axis cs:20,40) (axis cs:20,0)--(axis cs:10,20);
\draw[black, line width=1.6pt] (axis cs:36,72)--(axis cs:0,0)--(axis cs:100,0)--(axis cs:64,72);
\end{scope}
\addplot[only marks, mark=o, mark size=1.6pt, draw=black!70, mark options={fill=white, line width=0.4pt}]
  table[x expr=\thisrow{o}+0.5*\thisrow{p}, y=p] {\dMK};
\addplot[only marks, mark=*, mark size=1.2pt, color=ssp]
  table[x expr=\thisrow{o}+0.5*\thisrow{p}, y=p] {\dSS};
\addplot[only marks, mark=triangle*, mark size=2pt, mark options={fill=tap, draw=black, line width=0.3pt}]
  table[x expr=\thisrow{o}+0.5*\thisrow{p}, y=p] {\dTM};
\end{axis}
% ---------- annotations
\node[font=\fs{13}] at (55pt,339pt) {(a)};
\node[font=\fs{12.5}] at (118pt,323pt) {Sulfur dioxide};
\draw[black, line width=0.6pt] (100pt,315pt) -- (110pt,284pt);
\node[font=\fs{12.5}] at (437pt,310pt) {Ozone};
\node[font=\fs{12.5}] at (442pt,227pt) {Nitrogen dioxide};
\node[font=\fs{12.5}, white] at (207pt,207pt) {PM-10};
\node[font=\fs{13}] at (566pt,339pt) {(b)};
\node[font=\fs{13}] at (710pt,339pt) {(c)};
\node[font=\fs{13}] at (59pt,169pt) {(d)};
\node[font=\fs{13}] at (343pt,167pt) {(e)};
\node[font=\fs{13}] at (690pt,159pt) {(f)};
% ternary (c) labels
\node[font=\fs{11}] at (587pt,190pt) {0};
\node[font=\fs{11}] at (603pt,223pt) {20};
\node[font=\fs{11}] at (630pt,257pt) {40};
\node[font=\fs{11}] at (700pt,359pt) {100};
\node[font=\fs{11}, rotate=-60] at (743pt,339pt) {20};
\node[font=\fs{11}, rotate=-60] at (765pt,302pt) {40};
\node[font=\fs{11}, rotate=-60] at (783pt,272pt) {60};
\node[font=\fs{11}, rotate=-60] at (807pt,235pt) {80};
\node[font=\fs{11}, rotate=-60] at (833pt,205pt) {100};
\node[font=\fs{11}, rotate=-60] at (653pt,180pt) {80};
\node[font=\fs{11}, rotate=-60] at (702pt,180pt) {60};
\node[font=\fs{11}, rotate=-60] at (747pt,180pt) {40};
\node[font=\fs{11}, rotate=-60] at (792pt,180pt) {20};
\node[font=\fs{11}, rotate=-60] at (827pt,184pt) {0};
\node[font=\fs{13}, rotate=56] at (580pt,233pt) {PM-10};
\node[font=\fs{13}, rotate=-58] at (797pt,297pt) {Ozone};
\node[font=\fs{11}] at (648pt,230pt) {1998};
\node[font=\fs{11}] at (725pt,204pt) {2020};
% ternary (f) labels
\node[font=\fs{11}] at (588pt,47pt) {0};
\node[font=\fs{11}] at (606pt,79pt) {20};
\node[font=\fs{11}] at (630pt,113pt) {40};
\node[font=\fs{11}] at (653pt,149pt) {60};
\node[font=\fs{11}, rotate=-60] at (727pt,165pt) {20};
\node[font=\fs{11}, rotate=-60] at (767pt,159pt) {40};
\node[font=\fs{11}, rotate=-60] at (792pt,129pt) {60};
\node[font=\fs{11}, rotate=-60] at (810pt,92pt) {80};
\node[font=\fs{11}, rotate=-60] at (837pt,62pt) {100};
\node[font=\fs{11}, rotate=-60] at (655pt,35pt) {80};
\node[font=\fs{11}, rotate=-60] at (703pt,35pt) {60};
\node[font=\fs{11}, rotate=-60] at (745pt,35pt) {40};
\node[font=\fs{11}, rotate=-60] at (795pt,35pt) {20};
\node[font=\fs{11}, rotate=-60] at (827pt,40pt) {0};
\node[font=\fs{13}, rotate=56] at (611pt,141pt) {PM-10};
\node[font=\fs{13}, rotate=-58] at (817pt,127pt) {Ozone};
\node[font=\fs{13}] at (717pt,19pt) {Nitrogen dioxide};
\node[font=\fs{13}] at (672pt,112pt) {SSP};
\node[font=\fs{13}] at (747pt,113pt) {Tap Mun};
\node[font=\fs{12.5}, fill=white, inner sep=1pt] at (637pt,53pt) {Mong Kok};
% shared labels
\node[rotate=90] at (12pt,190pt) {{\fs{22}\itshape R}{\fs{13}\raisebox{-4pt}{AHR}}};
\draw[line width=2pt] (14pt,340pt) -- (14pt,227pt);
\draw[line width=2pt] (15pt,155pt) -- (15pt,54pt);
\node[font=\fs{20}] at (308pt,14pt) {Year};
\draw[line width=2pt] (92pt,13pt) -- (267pt,13pt);
\draw[line width=2pt] (340pt,13pt) -- (515pt,13pt);
\end{tikzpicture}
\end{document}
